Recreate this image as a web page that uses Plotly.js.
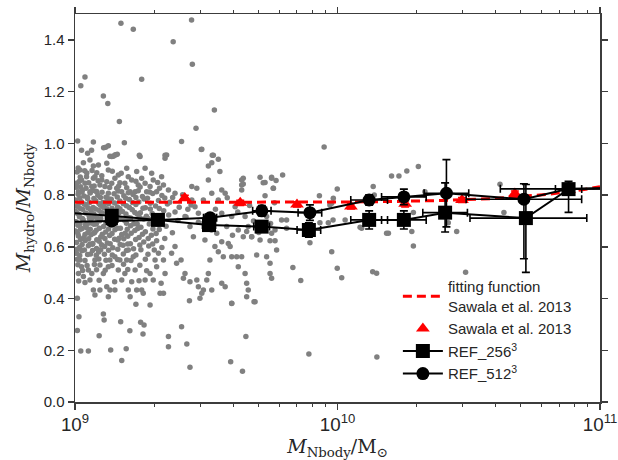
<!DOCTYPE html>
<html>
<head>
<meta charset="utf-8">
<script src="https://cdn.plot.ly/plotly-3.0.1.min.js"></script>
<style>html,body{margin:0;padding:0;background:#fff;}#chart{width:618px;height:460px;}</style>
</head>
<body>
<div id="chart"></div>
<script>
// ---- individual haloes: [log10 M_Nbody, M_hydro/M_Nbody]
var haloPairs = [
[9.175,1.464],[9.222,1.441],[9.444,1.477],[9.374,1.393],[9.447,1.306],[9.038,1.256],[9.022,1.223],[9.254,1.248],
[9.108,1.183],[9.125,1.154],[9.531,1.129],[9.169,1.084],[9.461,1.058],[9.01,1.009],[9.07,1.005],[9.188,1.002],
[9.406,1.007],[9.949,0.986],[9.481,0.976],[9.523,0.954],[9.245,0.954],[9.343,0.954],[9.127,0.991],[9.109,0.983],
[9.025,0.973],[9.048,0.962],[9.063,0.973],[9.133,0.95],[9.146,0.95],[9.156,0.956],
[9.117,0.985],[9.019,0.897],[9.057,0.936],[9.07,0.912],[9.089,0.916],[9.121,0.923],[9.14,0.949],[9.152,0.955],
[9.161,0.958],[9.127,0.897],[9.165,0.878],[9.197,0.904],[9.203,0.871],[9.235,0.891],[9.248,0.949],[9.267,0.904],
[9.292,0.884],[9.286,0.833],[9.33,0.871],[9.343,0.942],[9.349,0.955],[9.298,0.858],[9.241,0.839],[9.216,0.858],
[9.254,0.865],[9.267,0.846],[9.311,0.813],[9.337,0.839],[9.356,0.82],[9.381,0.807],[9.445,0.833],[9.464,0.826],
[9.483,0.977],[9.508,0.912],[9.521,0.925],[9.527,0.954],[9.546,0.938],[9.552,0.891],[9.508,0.858],[9.521,0.807],
[9.559,0.82],[9.635,0.858],[9.641,0.843],[9.705,0.869],[9.724,0.849],[9.749,0.865],[9.756,0.826],[9.635,0.82],
[9.572,0.807],[9.159,0.826],[9.102,0.858],[9.076,0.871],[9.025,0.858],[9.038,0.846],[9.064,0.833],[9.083,0.813],
[9.114,0.833],[9.14,0.846],[9.19,0.846],[9.178,0.813],[9.21,0.813],[9.006,0.846],[9.013,0.813],[9.044,0.871],
[9.057,0.813],[9.095,0.839],[9.127,0.807],[9.152,0.865],[9.229,0.813],[9.273,0.813],
[9.012,0.803],[9.034,0.796],[9.058,0.808],[9.087,0.799],[9.118,0.792],[9.149,0.805],[9.186,0.797],[9.221,0.802],
[9.257,0.794],[9.296,0.806],[9.331,0.798],[9.372,0.791],[9.41,0.801],
[9.003,0.781],[9.024,0.774],[9.048,0.786],[9.079,0.778],[9.106,0.771],[9.138,0.784],[9.171,0.777],[9.207,0.783],
[9.243,0.773],[9.276,0.788],[9.318,0.779],[9.361,0.772],
[9.008,0.757],[9.041,0.763],[9.069,0.752],[9.097,0.761],[9.128,0.766],[9.162,0.754],[9.196,0.759],[9.232,0.764],
[9.268,0.751],[9.307,0.758],[9.352,0.765],[9.397,0.753],[9.442,0.762],
[9.001,0.738],[9.029,0.745],[9.062,0.733],[9.091,0.741],[9.121,0.747],[9.181,0.736],[9.218,0.743],[9.249,0.732],
[9.287,0.746],[9.338,0.739],[9.381,0.735],
[9.017,0.716],[9.052,0.724],[9.083,0.711],[9.158,0.722],[9.203,0.713],[9.238,0.726],[9.272,0.718],[9.312,0.709],
[9.357,0.723],[9.423,0.715],
[9.004,0.697],[9.031,0.705],[9.063,0.692],[9.094,0.701],[9.127,0.694],[9.188,0.703],[9.224,0.689],[9.262,0.707],
[9.298,0.696],[9.333,0.691],[9.392,0.702],
[9.011,0.683],[9.043,0.675],[9.072,0.687],[9.109,0.678],[9.141,0.684],[9.173,0.672],[9.212,0.681],[9.251,0.676],
[9.283,0.688],[9.347,0.679],
[9.002,0.661],[9.021,0.668],[9.049,0.655],[9.081,0.664],[9.117,0.657],[9.152,0.666],[9.191,0.652],[9.228,0.663],
[9.268,0.658],[9.321,0.667],[9.371,0.654],
[9.013,0.642],[9.033,0.635],[9.061,0.647],[9.098,0.638],[9.132,0.644],[9.168,0.633],[9.201,0.641],[9.244,0.636],
[9.291,0.645],[9.342,0.632],
[9.006,0.617],[9.039,0.624],[9.068,0.613],[9.092,0.621],[9.123,0.615],[9.163,0.626],[9.211,0.612],[9.262,0.619],
[9.311,0.623],
[9.018,0.598],[9.051,0.604],[9.082,0.593],[9.113,0.601],[9.144,0.596],[9.183,0.606],[9.223,0.592],[9.281,0.603],
[9.331,0.597],
[9.005,0.83],[9.02,0.87],[9.028,0.82],[9.045,0.885],[9.07,0.865],[9.08,0.815],[9.015,0.725],[9.04,0.685],
[9.055,0.71],[9.075,0.655],[9.026,0.585],[9.048,0.57],[9.066,0.61],[9.09,0.58],[9.035,0.765],[9.058,0.745],
[9.1,0.725],[9.11,0.76],[9.102,0.875],[9.012,0.905],[9.032,0.925],[9.065,0.895],
[9.008,0.889],[9.037,0.894],[9.083,0.886],[9.142,0.892],[9.176,0.884],
[9.016,0.852],[9.052,0.848],[9.088,0.855],[9.121,0.851],[9.171,0.848],[9.232,0.853],[9.315,0.849],
[9.021,0.832],[9.042,0.826],[9.073,0.835],[9.132,0.829],[9.166,0.834],[9.197,0.828],[9.248,0.831],[9.322,0.826],
[9.027,0.812],[9.068,0.818],[9.103,0.811],[9.164,0.816],[9.203,0.809],[9.241,0.817],[9.284,0.812],
[9.018,0.789],[9.047,0.792],[9.072,0.787],[9.097,0.791],[9.128,0.786],[9.161,0.793],[9.193,0.788],[9.232,0.791],[9.263,0.785],[9.342,0.789],
[9.016,0.768],[9.056,0.771],[9.091,0.767],[9.119,0.772],[9.151,0.769],[9.184,0.766],[9.219,0.771],[9.287,0.768],
[9.019,0.748],[9.049,0.751],[9.078,0.746],[9.109,0.752],[9.141,0.749],[9.171,0.747],[9.207,0.752],[9.259,0.749],[9.321,0.748],
[9.009,0.729],[9.041,0.731],[9.072,0.727],[9.103,0.732],[9.136,0.728],[9.167,0.731],[9.194,0.727],[9.228,0.733],[9.294,0.729],
[9.028,0.709],[9.066,0.712],[9.098,0.708],[9.141,0.711],[9.172,0.708],[9.212,0.711],[9.246,0.713],[9.281,0.708],
[9.019,0.689],[9.051,0.691],[9.081,0.688],[9.118,0.692],[9.153,0.689],[9.196,0.691],[9.237,0.688],[9.317,0.692],
[9.027,0.671],[9.058,0.668],[9.093,0.672],[9.128,0.669],[9.162,0.672],[9.199,0.668],[9.239,0.671],[9.297,0.669],
[9.011,0.651],[9.038,0.648],[9.071,0.652],[9.104,0.649],[9.141,0.651],[9.178,0.648],[9.214,0.652],[9.257,0.649],[9.309,0.651],
[9.021,0.628],[9.052,0.631],[9.083,0.627],[9.114,0.632],[9.151,0.629],[9.186,0.631],[9.231,0.628],[9.279,0.632],
[9.027,0.609],[9.057,0.611],[9.101,0.608],[9.134,0.612],[9.172,0.609],[9.201,0.611],[9.247,0.607],[9.296,0.611],
[9.008,0.591],[9.036,0.588],[9.067,0.586],[9.098,0.589],[9.128,0.587],[9.163,0.591],[9.196,0.586],[9.251,0.589],
[9.018,0.566],[9.059,0.572],[9.081,0.567],[9.112,0.571],[9.142,0.568],[9.184,0.572],[9.232,0.568],[9.278,0.571],
[9.009,0.552],[9.038,0.547],[9.091,0.553],[9.118,0.548],[9.162,0.551],[9.213,0.547],[9.268,0.552],
[9.011,0.531],[9.046,0.528],[9.074,0.532],[9.141,0.528],[9.185,0.533],[9.247,0.529],
[9.029,0.508],[9.082,0.511],[9.115,0.509],[9.201,0.512],[9.273,0.507],
[9.014,0.468],[9.038,0.462],[9.092,0.471],[9.151,0.465],[9.244,0.469],
[9.445,0.781],[9.457,0.755],[9.419,0.717],[9.438,0.678],[9.451,0.639],[9.47,0.73],[9.489,0.781],[9.495,0.626],
[9.546,0.781],[9.559,0.73],[9.54,0.652],[9.578,0.678],[9.597,0.717],[9.61,0.755],[9.622,0.665],[9.648,0.717],
[9.66,0.678],[9.673,0.639],[9.692,0.678],[9.73,0.717],[9.749,0.652],[9.711,0.755],
[9.43,0.745],[9.47,0.695],[9.5,0.72],[9.52,0.665],[9.535,0.745],[9.58,0.79],[9.6,0.645],[9.62,0.735],
[9.665,0.76],[9.68,0.7],[9.7,0.655],[9.72,0.74],[9.745,0.69],[9.76,0.77],
[9.006,0.575],[9.019,0.549],[9.025,0.523],[9.013,0.497],[9.032,0.485],[9.051,0.51],[9.057,0.472],[9.064,0.497],
[9.076,0.549],[9.095,0.53],[9.108,0.497],[9.127,0.523],[9.133,0.549],[9.152,0.562],[9.171,0.549],[9.165,0.51],
[9.178,0.472],[9.19,0.497],[9.197,0.549],[9.203,0.588],[9.222,0.562],[9.229,0.51],[9.216,0.465],[9.235,0.433],
[9.254,0.433],[9.267,0.472],[9.286,0.497],[9.305,0.549],[9.311,0.523],[9.302,0.588],[9.318,0.575],[9.337,0.549],
[9.343,0.497],[9.328,0.459],[9.368,0.575],[9.381,0.601],[9.387,0.536],[9.404,0.549],[9.419,0.497],[9.413,0.478],
[9.438,0.465],[9.464,0.472],[9.47,0.446],[9.489,0.433],[9.502,0.472],[9.508,0.497],[9.514,0.549],[9.533,0.601],
[9.546,0.581],[9.559,0.62],[9.565,0.562],[9.584,0.613],[9.591,0.601],[9.597,0.562],[9.616,0.562],[9.622,0.523],
[9.635,0.562],[9.648,0.497],[9.654,0.459],[9.66,0.433],[9.654,0.407],[9.559,0.459],[9.572,0.446],[9.521,0.433],
[9.483,0.42],[9.476,0.401],[9.07,0.433],[9.076,0.414],[9.095,0.433],[9.121,0.446],[9.133,0.433],[9.127,0.407],
[9.152,0.433],[9.203,0.433],[9.21,0.407],[9.26,0.42],[9.324,0.42],[9.337,0.42],[9.298,0.472],[9.692,0.568],
[9.73,0.562],[9.743,0.536],[9.743,0.497],[9.749,0.478],[9.705,0.626],[9.597,0.381],[9.686,0.388],
[9.009,0.401],[9.015,0.33],[9.009,0.276],[9.022,0.197],[9.051,0.197],[9.092,0.256],[9.108,0.34],[9.111,0.317],
[9.136,0.201],[9.174,0.31],[9.178,0.16],[9.195,0.206],[9.209,0.275],[9.232,0.378],[9.25,0.308],[9.263,0.298],
[9.259,0.263],[9.286,0.375],[9.356,0.253],[9.356,0.214],[9.406,0.291],[9.426,0.224],[9.438,0.134],[9.593,0.156],
[9.638,0.119],[9.651,0.253],[9.682,0.388],[9.597,0.382],[9.436,0.391],
[9.641,0.865],[9.635,0.839],[9.717,0.848],[9.749,0.869],[9.766,0.856],[9.755,0.826],[9.724,0.797],[9.791,0.878],
[9.931,0.797],[9.999,0.823],[9.984,0.788],[9.971,0.762],[9.787,0.704],[9.806,0.704],[9.933,0.693],[9.965,0.693],
[10.029,0.704],[9.762,0.665],[9.806,0.672],[10.086,0.676],[9.641,0.639],[9.673,0.639],[9.654,0.659],[9.743,0.623],
[9.762,0.623],[9.768,0.588],[9.895,0.616],[10.136,0.833],[10.206,0.874],[10.234,0.874],[10.264,0.893],[10.187,0.652],
[10.283,0.659],[10.289,0.603],[9.978,0.768],[9.983,0.704],[10.14,0.80],[10.308,0.91],[10.333,0.813],[10.289,0.733],
[10.422,0.693],[10.454,0.659],[10.619,0.842],[10.634,0.733],[9.978,0.581],[9.999,0.517],[10.016,0.48],[10.134,0.504],
[10.149,0.498],[10.488,0.502],[10.092,0.672],[10.194,0.652],[9.891,0.186],[10.15,0.174],[9.83,0.52],[9.86,0.47]
];
var haloLogM = haloPairs.map(function(p){return p[0];});
var haloRatio = haloPairs.map(function(p){return p[1];});

// ---- fitting function (Sawala et al. 2013)
var fitMass  = [1e9, 3.16e9, 1e10, 1.585e10, 2.512e10, 3.981e10, 6.31e10, 7.943e10, 1e11];
var fitRatio = [0.772, 0.772, 0.773, 0.775, 0.779, 0.787, 0.803, 0.815, 0.832];

// ---- Sawala et al. 2013 points
var sawMass  = [2.62e9, 4.26e9, 7.01e9, 1.125e10, 1.81e10, 2.98e10, 4.74e10, 7.62e10];
var sawRatio = [0.789, 0.770, 0.764, 0.756, 0.766, 0.781, 0.806, 0.820];
var sawErr   = [0.01, 0.01, 0.01, 0.01, 0.012, 0.01, 0.01, 0.01];

// ---- REF_256^3 (squares)
var m256     = [9.12e8, 1.38e9, 2.07e9, 3.24e9, 5.14e9, 7.78e9, 1.32e10, 1.79e10, 2.57e10, 5.22e10, 7.59e10, 1.15e11];
var r256     = [0.732, 0.720, 0.704, 0.684, 0.678, 0.665, 0.704, 0.704, 0.732, 0.711, 0.823, 0.826];
var r256Up   = [0, 0.012, 0.012, 0.015, 0.02, 0.028, 0.035, 0.035, 0.115, 0.13, 0.03, 0];
var r256Dn   = [0, 0.012, 0.012, 0.015, 0.02, 0.028, 0.035, 0.035, 0.075, 0.21, 0.09, 0];
var m256DexLo= [0, 0.02, 0.02, 0.025, 0.03, 0.045, 0.07, 0.085, 0.085, 0.213, 0.05, 0];
var m256DexHi= [0, 0.02, 0.02, 0.025, 0.03, 0.045, 0.07, 0.085, 0.085, 0.232, 0.05, 0];

// ---- REF_512^3 (circles)
var m512     = [9.12e8, 1.38e9, 2.07e9, 3.27e9, 5.15e9, 7.85e9, 1.32e10, 1.79e10, 2.60e10, 5.13e10, 7.59e10, 1.15e11];
var r512     = [0.696, 0.700, 0.704, 0.712, 0.739, 0.732, 0.781, 0.793, 0.807, 0.784, 0.824, 0.827];
var r512Up   = [0, 0.012, 0.012, 0.015, 0.02, 0.03, 0.02, 0.03, 0.13, 0.06, 0.02, 0];
var r512Dn   = [0, 0.012, 0.012, 0.015, 0.02, 0.03, 0.02, 0.03, 0.13, 0.23, 0.02, 0];
var m512DexLo= [0, 0.02, 0.02, 0.025, 0.035, 0.045, 0.07, 0.085, 0.085, 0.22, 0.26, 0];
var m512DexHi= [0, 0.02, 0.02, 0.025, 0.035, 0.045, 0.07, 0.085, 0.085, 0.22, 0.26, 0];

function plusFromDex(m, d){ return m.map(function(v,i){return v*(Math.pow(10,d[i])-1);}); }
function minusFromDex(m, d){ return m.map(function(v,i){return v*(1-Math.pow(10,-d[i]));}); }

var tickFont = {family:'Liberation Sans, Arial, sans-serif', size:15, color:'#262626'};
var axisCol = '#3c3c3c';

var traces = [
  {x: haloLogM.map(function(v){return Math.pow(10,v);}), y: haloRatio, type:'scatter', mode:'markers',
   marker:{color:'#808080', size:5.5}, showlegend:false, hoverinfo:'skip'},
  {x: fitMass, y: fitRatio, type:'scatter', mode:'lines', name:'fitting function<br>Sawala et al. 2013',
   line:{color:'#ff0000', width:3, dash:'9px,5px'}},
  {x: sawMass, y: sawRatio, type:'scatter', mode:'markers', name:'Sawala et al. 2013',
   marker:{symbol:'triangle-up', color:'#ff0000', size:12},
   error_y:{type:'data', array:sawErr, color:'#ff0000', thickness:1.5, width:4}},
  {x: m256, y: r256, type:'scatter', mode:'lines+markers', name:'REF_256<sup>3</sup>',
   line:{color:'#000', width:2}, marker:{symbol:'square', color:'#000', size:14},
   error_y:{type:'data', symmetric:false, array:r256Up, arrayminus:r256Dn, color:'#000', thickness:1.6, width:4},
   error_x:{type:'data', symmetric:false, array:plusFromDex(m256,m256DexHi), arrayminus:minusFromDex(m256,m256DexLo), color:'#000', thickness:1.6, width:4}},
  {x: m512, y: r512, type:'scatter', mode:'lines+markers', name:'REF_512<sup>3</sup>',
   line:{color:'#000', width:2}, marker:{symbol:'circle', color:'#000', size:13},
   error_y:{type:'data', symmetric:false, array:r512Up, arrayminus:r512Dn, color:'#000', thickness:1.6, width:4},
   error_x:{type:'data', symmetric:false, array:plusFromDex(m512,m512DexHi), arrayminus:minusFromDex(m512,m512DexLo), color:'#000', thickness:1.6, width:4}}
];

var layout = {
  width:618, height:460,
  margin:{l:75, r:18, t:14, b:58},
  paper_bgcolor:'#fff', plot_bgcolor:'#fff',
  showlegend:true,
  legend:{x:0.615, y:0.03, xanchor:'left', yanchor:'bottom', bgcolor:'rgba(0,0,0,0)', itemwidth:40,
          font:{family:'Liberation Sans, Arial, sans-serif', size:15, color:'#262626'}, tracegroupgap:2},
  xaxis:{type:'log', range:[9,11], dtick:1, exponentformat:'power', showgrid:false, zeroline:false,
         showline:true, mirror:'ticks', linecolor:axisCol, linewidth:1.5,
         ticks:'outside', ticklen:6, tickwidth:1.5, tickcolor:axisCol, tickfont:tickFont,
         minor:{dtick:'D1', ticks:'outside', ticklen:3, tickwidth:1, tickcolor:axisCol},
         title:{text:'<i>M</i><sub>Nbody</sub>/M<sub>⊙</sub>', standoff:6,
                font:{family:'DejaVu Serif, serif', size:19, color:'#262626'}}},
  yaxis:{range:[0,1.5], tickvals:[0,0.2,0.4,0.6,0.8,1.0,1.2,1.4], tickformat:'.1f', showgrid:false, zeroline:false,
         showline:true, mirror:'ticks', linecolor:axisCol, linewidth:1.5,
         ticks:'outside', ticklen:6, tickwidth:1.5, tickcolor:axisCol, tickfont:tickFont,
         title:{text:'<i>M</i><sub>hydro</sub>/<i>M</i><sub>Nbody</sub>', standoff:8,
                font:{family:'DejaVu Serif, serif', size:19, color:'#262626'}}}
};

Plotly.newPlot('chart', traces, layout, {displayModeBar:false, staticPlot:true});
</script>
</body>
</html>
